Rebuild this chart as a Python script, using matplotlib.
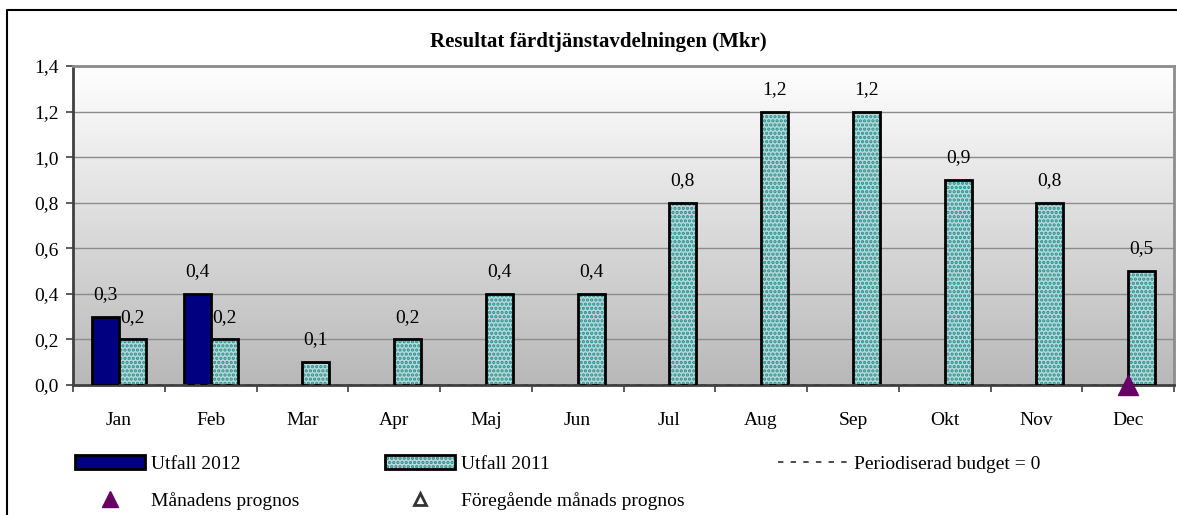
import matplotlib.pyplot as plt
import matplotlib.patches as mpatches
import matplotlib.lines as mlines
from matplotlib.colors import LinearSegmentedColormap
import numpy as np

plt.rcParams['font.family'] = ['Liberation Serif', 'DejaVu Serif']
plt.rcParams['hatch.linewidth'] = 1.6

months = ['Jan', 'Feb', 'Mar', 'Apr', 'Maj', 'Jun', 'Jul', 'Aug', 'Sep', 'Okt', 'Nov', 'Dec']
utfall_2012 = [0.3, 0.4]
utfall_2011 = [0.2, 0.2, 0.1, 0.2, 0.4, 0.4, 0.8, 1.2, 1.2, 0.9, 0.8, 0.5]
budget = [0] * 12
prognos_month = ['Dec']
prognos_value = [0.0]

fs = 14
W, H = 1177, 515
fig = plt.figure(figsize=(W / 100, H / 100), dpi=100)
ax = fig.add_axes([73 / W, 1 - 385 / H, (1174 - 73) / W, (385 - 66) / H])

# outer chart frame: only left and top edges are visible in the original
fig.add_artist(mlines.Line2D([7 / W, 7 / W, 1.0], [0, 1 - 10 / H, 1 - 10 / H],
                             transform=fig.transFigure, color='black', linewidth=1.5))

# gradient background: white at top, gray at bottom
grad = np.linspace(0, 1, 256).reshape(-1, 1)
cmap = LinearSegmentedColormap.from_list('g', ['#ffffff', '#b8b8b8'])
ax.imshow(grad, extent=[-0.5, 11.5, 0, 1.4], origin='upper', aspect='auto',
          cmap=cmap, zorder=0)

x = np.arange(len(months))
bw = 0.294

ax.set_axisbelow(True)
ax.grid(axis='y', color='#8c8c8c', linewidth=1, zorder=1)

# Utfall 2012
x12 = x[:len(utfall_2012)]
ax.bar(x12 - bw / 2, utfall_2012, bw, color='#000080', edgecolor='black', linewidth=2, zorder=3)
# Utfall 2011 (dotted fill)
ax.bar(x + bw / 2, utfall_2011, bw, color='#b4dada', edgecolor='#2a8c8c', hatch='....',
       linewidth=0, zorder=3)
ax.bar(x + bw / 2, utfall_2011, bw, fill=False, edgecolor='black', linewidth=2, zorder=4)

def fmt(v):
    return ('%.1f' % v).replace('.', ',')

for xi, v in zip(x12, utfall_2012):
    ax.annotate(fmt(v), (xi - bw / 2, v), xytext=(0, 16), textcoords='offset points',
                ha='center', va='center', fontsize=fs)
for xi, v in zip(x, utfall_2011):
    ax.annotate(fmt(v), (xi + bw / 2, v), xytext=(0, 16), textcoords='offset points',
                ha='center', va='center', fontsize=fs)

dash = (0, (3, 4))
ax.plot(x, budget, linestyle=dash, color='#404040', linewidth=1.3, zorder=5)
px = [months.index(m) for m in prognos_month]
ax.plot(px, prognos_value, linestyle='none', marker='^', markersize=15,
        color='#660066', zorder=6, clip_on=False)

ax.set_xlim(-0.5, 11.5)
ax.set_ylim(0, 1.4)
ax.set_yticks(np.arange(0, 1.41, 0.2))
ax.set_yticklabels([fmt(v) for v in np.arange(0, 1.41, 0.2)], fontsize=fs)
ax.set_xticks(x)
ax.set_xticklabels(months, fontsize=fs)
ax.set_xticks(np.arange(-0.5, 11.6, 1), minor=True)
ax.tick_params(axis='x', which='major', length=0, pad=19.5)
ax.tick_params(axis='x', which='minor', length=5, width=1.2, color='#404040')
ax.tick_params(axis='y', length=5, width=1.2, color='#404040', pad=5)

for s in ['top', 'right']:
    ax.spines[s].set_color('#8c8c8c')
    ax.spines[s].set_linewidth(2)
for s in ['left', 'bottom']:
    ax.spines[s].set_color('#404040')
    ax.spines[s].set_linewidth(2)

fig.text(598 / W, 1 - 42 / H, 'Resultat färdtjänstavdelningen (Mkr)', ha='center', va='center',
         fontsize=15, fontweight='bold')

h12 = mpatches.Patch(facecolor='#000080', edgecolor='black', linewidth=2)
h11 = (mpatches.Patch(facecolor='#b4dada', edgecolor='#2a8c8c', hatch='....', linewidth=0),
       mpatches.Patch(fill=False, edgecolor='black', linewidth=2))
hbud = mlines.Line2D([], [], linestyle=dash, color='#404040', linewidth=1.3)
hprog = mlines.Line2D([], [], linestyle='none', marker='^', markersize=11, color='#660066')
hprev = mlines.Line2D([], [], linestyle='none', marker='^', markersize=9,
                      markerfacecolor='none', markeredgecolor='#333333', markeredgewidth=2)

common = dict(frameon=False, fontsize=fs, handlelength=3.6, handleheight=0.75,
              handletextpad=0.3, labelspacing=1.0, borderpad=0, borderaxespad=0,
              loc='upper left')
leg1 = fig.legend([h12, hprog], ['Utfall 2012', 'Månadens prognos'],
                  bbox_to_anchor=(75 / W, 1 - 455 / H), **common)
leg2 = fig.legend([h11, hprev], ['Utfall 2011', 'Föregående månads prognos'],
                  bbox_to_anchor=(385 / W, 1 - 455 / H), **common)
leg3 = fig.legend([hbud], ['Periodiserad budget = 0'],
                  bbox_to_anchor=(778 / W, 1 - 455 / H), **common)

fig.savefig('out.png', dpi=100)
